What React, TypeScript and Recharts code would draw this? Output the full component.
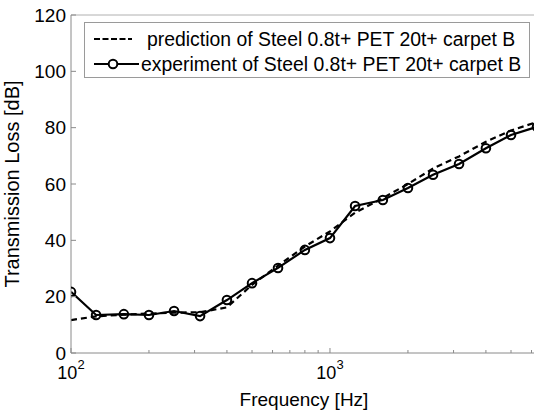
import React from 'react';
import { LineChart, Line, XAxis, YAxis, ReferenceLine } from 'recharts';

// 1/3-octave band centre frequencies [Hz]
const FREQUENCIES = [100, 125, 160, 200, 250, 315, 400, 500, 630, 800, 1000, 1250, 1600, 2000, 2500, 3150, 4000, 5000, 6300];
const EXPERIMENT = [21.7, 13.5, 13.8, 13.5, 14.9, 13.1, 18.8, 24.8, 30.2, 36.6, 40.8, 52.2, 54.3, 58.6, 63.3, 67.1, 72.7, 77.4, 80.3];
const PREDICTION = [11.7, 13.0, 13.6, 14.0, 14.3, 14.5, 16.2, 24.2, 31.0, 37.8, 43.2, 49.8, 55.0, 60.0, 65.5, 69.8, 75.0, 79.0, 82.0];

const X_TICKS = [100, 200, 300, 400, 500, 600, 700, 800, 900, 1000, 2000, 3000, 4000, 5000, 6000];
const Y_TICKS = [0, 20, 40, 60, 80, 100, 120];

const LEGEND_PRED = 'prediction of Steel 0.8t+ PET 20t+ carpet B';
const LEGEND_EXP = 'experiment of Steel 0.8t+ PET 20t+ carpet B';

const FONT = '"Liberation Sans", Arial, Helvetica, sans-serif';
const AXIS_GREY = '#8a8a8a';

const data = FREQUENCIES.map((f, i) => ({
  freq: f,
  experiment: EXPERIMENT[i],
  prediction: PREDICTION[i],
}));

const XTick = (props: any) => {
  const { x, y, payload } = props;
  const lg = Math.log10(payload.value);
  const exp = Math.round(lg);
  const major = Math.abs(lg - exp) < 1e-6;
  return (
    <g>
      <line x1={x} x2={x} y1={y} y2={y - (major ? 5 : 3)} stroke={AXIS_GREY} />
      {major && (
        <text x={x} y={y + 26} textAnchor="middle" fontSize={18} fontFamily={FONT} fill="#000">
          10
          <tspan dy={-10} fontSize={13}>{exp}</tspan>
        </text>
      )}
    </g>
  );
};

const YTick = (props: any) => {
  const { x, y, payload } = props;
  return (
    <g>
      <line x1={x} x2={x + 5} y1={y} y2={y} stroke={AXIS_GREY} />
      <text x={x - 5} y={y} dy={6.5} textAnchor="end" fontSize={19} fontFamily={FONT} fill="#000">
        {payload.value}
      </text>
    </g>
  );
};

const OpenDot = (props: any) => {
  const { cx, cy, index } = props;
  if (cx == null || cy == null) return <g key={index} />;
  return <circle key={index} cx={cx} cy={cy} r={4.3} fill="none" stroke="#000" strokeWidth={2} />;
};

const LegendBox = () => (
  <div
    style={{
      position: 'absolute',
      left: 84,
      top: 22,
      width: 444,
      height: 54,
      border: '1px solid #9a9a9a',
      background: '#fff',
      fontFamily: FONT,
      fontSize: 19.4,
      color: '#000',
    }}
  >
    <svg style={{ position: 'absolute', left: 8, top: 6 }} width={40} height={20}>
      <line x1={1} x2={39} y1={10} y2={10} stroke="#000" strokeWidth={2.2} strokeDasharray="6 2.5" />
    </svg>
    <div style={{ position: 'absolute', left: 62, top: 5, lineHeight: '22px', whiteSpace: 'nowrap' }}>{LEGEND_PRED}</div>
    <svg style={{ position: 'absolute', left: 8, top: 31 }} width={46} height={20}>
      <line x1={1} x2={46} y1={10} y2={10} stroke="#000" strokeWidth={2.2} />
      <circle cx={20} cy={10} r={4.3} fill="#fff" stroke="#000" strokeWidth={2} />
    </svg>
    <div style={{ position: 'absolute', left: 56, top: 30, lineHeight: '22px', whiteSpace: 'nowrap' }}>{LEGEND_EXP}</div>
  </div>
);

export default function App() {
  return (
    <div
      style={{
        position: 'absolute',
        left: 0,
        top: 0,
        width: 534,
        height: 414,
        overflow: 'hidden',
        background: '#fff',
        fontFamily: FONT,
      }}
    >
      <LineChart width={537} height={414} data={data} margin={{ top: 15, right: 0, bottom: 0, left: 0 }}>
        <XAxis
          dataKey="freq"
          type="number"
          scale="log"
          domain={[100, 6300]}
          allowDataOverflow
          ticks={X_TICKS}
          interval={0}
          tickSize={0}
          tickMargin={0}
          tickLine={false}
          axisLine={{ stroke: AXIS_GREY }}
          tick={<XTick />}
          height={61}
          label={{ value: 'Frequency [Hz]', position: 'insideBottom', offset: 8, fontSize: 19, fontFamily: FONT, fill: '#000' }}
        />
        <YAxis
          type="number"
          domain={[0, 120]}
          ticks={Y_TICKS}
          interval={0}
          tickSize={0}
          tickMargin={0}
          tickLine={false}
          axisLine={{ stroke: AXIS_GREY }}
          tick={<YTick />}
          width={71}
          label={{ value: 'Transmission Loss [dB]', angle: -90, position: 'insideLeft', offset: 12, fontSize: 20, fontFamily: FONT, fill: '#000', style: { textAnchor: 'middle' } }}
        />
        <ReferenceLine y={120} stroke="#b0b0b0" />
        <Line
          dataKey="prediction"
          stroke="#000"
          strokeWidth={2.2}
          strokeDasharray="6 4"
          dot={false}
          isAnimationActive={false}
        />
        <Line
          dataKey="experiment"
          stroke="#000"
          strokeWidth={2.2}
          dot={<OpenDot />}
          isAnimationActive={false}
        />
      </LineChart>
      <LegendBox />
    </div>
  );
}
